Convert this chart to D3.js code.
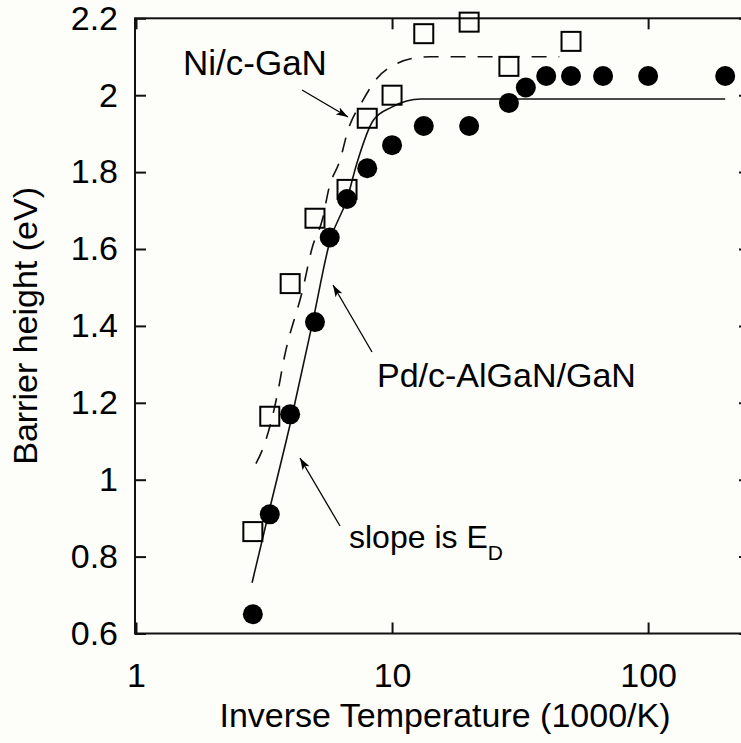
<!DOCTYPE html>
<html>
<head>
<meta charset="utf-8">
<script src="https://cdn.jsdelivr.net/npm/d3@7"></script>
<style>
  html, body { margin: 0; padding: 0; background: #fdfdf9; }
  svg { display: block; }
  text { font-family: "Liberation Sans", Arial, sans-serif; fill: #000; }
</style>
</head>
<body>
<div id="chart"></div>
<script>
// ---------- data ----------
const pdInvT = [2.86, 3.33, 4, 5, 5.71, 6.67, 8, 10, 13.3, 20, 28.6, 33.3, 40, 50, 66.7, 100, 200];
const pdPhi  = [0.65, 0.91, 1.17, 1.41, 1.63, 1.73, 1.81, 1.87, 1.92, 1.92, 1.98, 2.02, 2.05, 2.05, 2.05, 2.05, 2.05];

const niInvT = [2.86, 3.33, 4, 5, 6.67, 8, 10, 13.3, 20, 28.6, 50];
const niPhi  = [0.865, 1.165, 1.51, 1.68, 1.755, 1.94, 2.0, 2.16, 2.19, 2.075, 2.14];

const pdFitInvT = [2.84, 3.28, 4.06, 4.91, 5.73, 6.67, 7.28, 8.45, 9.97, 11.4, 13.0, 200];
const pdFitPhi  = [0.732, 0.907, 1.163, 1.414, 1.622, 1.73, 1.822, 1.935, 1.969, 1.985, 1.99, 1.99];

const niFitInvT = [2.94, 3.13, 3.59, 3.76, 4.49, 4.87, 5.36, 5.67, 6.26, 6.73, 7.70, 8.74, 10.5, 12.1, 14.1, 45];
const niFitPhi  = [1.042, 1.081, 1.232, 1.305, 1.498, 1.602, 1.68, 1.758, 1.831, 1.909, 1.987, 2.044, 2.083, 2.096, 2.1, 2.1];

const xTicks = [1, 10, 100];
const xTickLabels = ["1", "10", "100"];
const yTicks = [0.6, 0.8, 1.0, 1.2, 1.4, 1.6, 1.8, 2.0, 2.2];
const yTickLabels = ["0.6", "0.8", "1", "1.2", "1.4", "1.6", "1.8", "2", "2.2"];

const xTitle = "Inverse Temperature (1000/K)";
const yTitle = "Barrier height (eV)";
const labelNi = "Ni/c-GaN";
const labelPd = "Pd/c-AlGaN/GaN";
const labelSlope = "slope is E";
const labelSlopeSub = "D";

// ---------- layout ----------
const W = 741, H = 743;
const mLeft = 135, mRight = 750, mTop = 18.3, mBottom = 633.5;

const x = d3.scaleLog().domain([1, 250]).range([136, mRight]);
const y = d3.scaleLinear().domain([0.6, 2.2]).range([mBottom, mTop]);

const svg = d3.select("#chart").append("svg")
  .attr("width", W).attr("height", H)
  .style("background", "#fdfdf9");

const defs = svg.append("defs");
defs.append("marker")
  .attr("id", "arrow")
  .attr("viewBox", "0 0 12 8")
  .attr("refX", 12).attr("refY", 4)
  .attr("markerWidth", 12).attr("markerHeight", 8)
  .attr("markerUnits", "userSpaceOnUse")
  .attr("orient", "auto")
  .append("path").attr("d", "M0,0 L12,4 L0,8 L3,4 Z").attr("fill", "#000");

const fontSize = 34;

// ---------- axes ----------
const axisColor = "#111";
function styleAxis(g) {
  g.select(".domain").remove();
  g.selectAll(".tick line").attr("stroke", axisColor).attr("stroke-width", 2);
  g.selectAll(".tick text").attr("font-size", fontSize).attr("font-family", "Liberation Sans, Arial, sans-serif").attr("fill", "#000");
}

svg.append("g").attr("transform", `translate(0,${mBottom})`)
  .call(d3.axisBottom(x).tickValues(xTicks).tickFormat((d, i) => xTickLabels[i])
    .tickSizeInner(-11).tickSizeOuter(0).tickPadding(29))
  .call(styleAxis);

svg.append("g").attr("transform", `translate(0,${mTop})`)
  .call(d3.axisTop(x).tickValues(xTicks).tickFormat("")
    .tickSizeInner(-11).tickSizeOuter(0))
  .call(styleAxis);

svg.append("g").attr("transform", `translate(${mLeft},0)`)
  .call(d3.axisLeft(y).tickValues(yTicks).tickFormat((d, i) => yTickLabels[i])
    .tickSizeInner(-11).tickSizeOuter(0).tickPadding(17))
  .call(styleAxis);

svg.append("g").attr("transform", `translate(${mRight},0)`)
  .call(d3.axisRight(y).tickValues(yTicks).tickFormat("")
    .tickSizeInner(-11).tickSizeOuter(0))
  .call(styleAxis);

// frame
svg.append("rect")
  .attr("x", mLeft).attr("y", mTop)
  .attr("width", mRight - mLeft).attr("height", mBottom - mTop)
  .attr("fill", "none").attr("stroke", axisColor).attr("stroke-width", 2);

// axis titles
svg.append("text")
  .attr("x", (136 + mRight) / 2 + 2).attr("y", 727)
  .attr("text-anchor", "middle").attr("font-size", fontSize)
  .text(xTitle);

svg.append("text")
  .attr("transform", `translate(37,${(mTop + mBottom) / 2}) rotate(-90)`)
  .attr("text-anchor", "middle").attr("font-size", fontSize)
  .text(yTitle);

// ---------- fit curves ----------
const line = d3.line().x(d => x(d[0])).y(d => y(d[1])).curve(d3.curveMonotoneX);

svg.append("path")
  .datum(pdFitInvT.map((v, i) => [v, pdFitPhi[i]]))
  .attr("d", line).attr("fill", "none")
  .attr("stroke", "#111").attr("stroke-width", 1.6);

svg.append("path")
  .datum(niFitInvT.map((v, i) => [v, niFitPhi[i]]))
  .attr("d", line).attr("fill", "none")
  .attr("stroke", "#111").attr("stroke-width", 1.6)
  .attr("stroke-dasharray", "15,12");

// ---------- markers ----------
const sq = 19;
svg.append("g").selectAll("rect")
  .data(niInvT.map((v, i) => [v, niPhi[i]]))
  .join("rect")
  .attr("x", d => x(d[0]) - sq / 2).attr("y", d => y(d[1]) - sq / 2)
  .attr("width", sq).attr("height", sq)
  .attr("fill", "none").attr("stroke", "#000").attr("stroke-width", 2);

svg.append("g").selectAll("circle")
  .data(pdInvT.map((v, i) => [v, pdPhi[i]]))
  .join("circle")
  .attr("cx", d => x(d[0])).attr("cy", d => y(d[1]))
  .attr("r", 10).attr("fill", "#000");

// ---------- annotations ----------
function arrow(x1, y1, x2, y2) {
  svg.append("line")
    .attr("x1", x1).attr("y1", y1).attr("x2", x2).attr("y2", y2)
    .attr("stroke", "#000").attr("stroke-width", 1.3)
    .attr("marker-end", "url(#arrow)");
}

svg.append("text").attr("x", 183).attr("y", 75).attr("font-size", 35).text(labelNi);
arrow(302, 90, 348, 117);

svg.append("text").attr("x", 377).attr("y", 387).attr("font-size", 34).text(labelPd);
arrow(372, 352, 333, 285);

const sl = svg.append("text").attr("x", 349).attr("y", 548).attr("font-size", 32);
sl.append("tspan").text(labelSlope);
sl.append("tspan").attr("dy", 12).attr("font-size", 21).text(labelSlopeSub);
arrow(340, 526, 300, 458);
</script>
</body>
</html>
